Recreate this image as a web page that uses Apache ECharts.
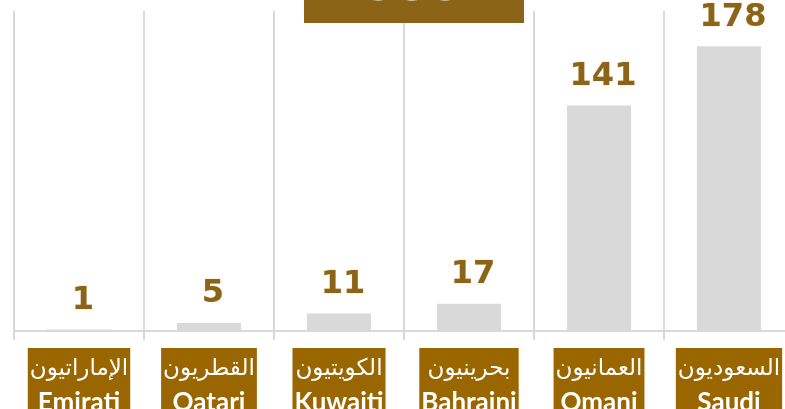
<!DOCTYPE html>
<html>
<head>
<meta charset="utf-8">
<script src="https://cdn.jsdelivr.net/npm/echarts@6/dist/echarts.min.js"></script>
<style>
  html, body { margin: 0; padding: 0; background: #fff; }
  #chart { width: 785px; height: 409px; }
</style>
</head>
<body>
<div id="chart"></div>
<script>
const arabicNames = ['الإماراتيون', 'القطريون', 'الكويتيون', 'بحرينيون', 'العمانيون', 'السعوديون']
const englishNames = ['Emirati', 'Qatari', 'Kuwaiti', 'Bahraini', 'Omani', 'Saudi']
const counts = [1, 5, 11, 17, 141, 178]
const totalLabel = '353'

const BROWN = '#9a6600'
const LABEL_BROWN = '#8c6418'
const GRAY = '#d9d9d9'

const chart = echarts.init(document.getElementById('chart'))

chart.setOption({
  backgroundColor: '#fff',
  animation: false,
  // ECharts 6 clamps the grid to the canvas by default; the reference runs off the right edge
  grid: { left: 14, width: 780, top: 11, height: 320, containLabel: false, outerBoundsMode: 'none' },
  xAxis: {
    type: 'category',
    data: arabicNames.map((a, i) => a + '\n' + englishNames[i]),
    axisLine: { lineStyle: { color: GRAY, width: 2 } },
    axisTick: { show: true, interval: 0, length: 9, lineStyle: { color: GRAY, width: 2 } },
    splitLine: { show: true, interval: 0, lineStyle: { color: GRAY, width: 2 } },
    axisLabel: {
      interval: 0,
      margin: 17,
      formatter: (v) => {
        const [ar, en] = v.split('\n')
        return '{ar|' + ar + '}\n{en|' + en + '}'
      },
      backgroundColor: BROWN,
      padding: [4, 2, 0, 2],
      rich: {
        ar: { color: '#fff', fontFamily: 'DejaVu Sans', fontSize: 23, lineHeight: 34 },
        en: { color: '#fff', fontFamily: 'Lato', fontWeight: 'bold', fontSize: 26, lineHeight: 34 },
      },
    },
  },
  yAxis: {
    type: 'value',
    min: 0,
    max: 200,
    show: false,
    splitLine: { show: false },
  },
  series: [{
    type: 'bar',
    data: counts,
    barWidth: 64,
    itemStyle: { color: GRAY },
    label: {
      show: true,
      position: 'top',
      distance: 13,
      offset: [4, 0],
      color: LABEL_BROWN,
      fontFamily: 'DejaVu Sans',
      fontWeight: 'bold',
      fontSize: 32,
      textBorderColor: '#f3e9d6',
      textBorderWidth: 1,
    },
  }],
  graphic: [
    { type: 'rect', z: 100, shape: { x: 304, y: -40, width: 220, height: 63 }, style: { fill: LABEL_BROWN } },
    {
      type: 'text',
      z: 101,
      style: {
        text: totalLabel,
        x: 414,
        y: 12,
        align: 'center',
        verticalAlign: 'bottom',
        fill: '#fff',
        font: 'bold 48px "DejaVu Sans"',
      },
    },
  ],
})
</script>
</body>
</html>
